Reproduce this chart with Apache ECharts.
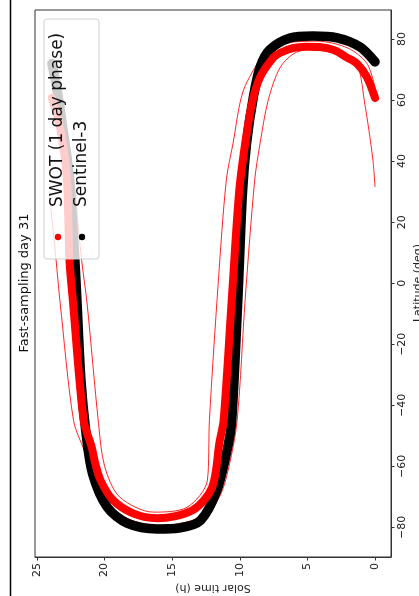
<!DOCTYPE html>
<html>
<head>
<meta charset="utf-8">
<script src="https://cdn.jsdelivr.net/npm/echarts@6/dist/echarts.min.js"></script>
<style>
  html, body { margin: 0; padding: 0; background: #fff; }
  #chart { width: 419px; height: 596px; }
</style>
</head>
<body>
<div id="chart"></div>
<script>
// solar time (h) / latitude (deg) pairs
var s3Time = [0, 1.1, 2.8, 4.6, 6.3, 7.8, 8.5, 9.0, 9.5, 9.8, 10.15, 10.6, 10.9, 11.7, 12.9, 14.5, 16.1, 18.3, 19.8, 20.9, 21.4, 21.75, 22.05, 22.2, 22.6, 23.1, 23.5, 23.9];
var s3Lat = [72.5, 77.4, 80.4, 81, 80.3, 76.4, 70.8, 61, 45.9, 30, -5.6, -45, -53.8, -67.9, -77.7, -80.2, -80.5, -78.7, -73.4, -62.3, -48.2, -31.8, -5.6, 7.5, 34.8, 51, 63, 72];

var swotTime = [0, 0.6, 1.3, 2.1, 3.0, 4.1, 5.1, 6.1, 7.0, 7.5, 8.5, 9.1, 9.6, 10.05, 10.6, 11.2, 11.5, 12.05, 13.5, 16.1, 17.9, 19.4, 20.3, 20.7, 20.95, 21.55, 22.35, 22.6, 22.8, 23.3, 23.9];
var swotLat = [60.7, 67.5, 71.8, 74, 76.3, 77.4, 77.5, 77, 75.5, 74, 67.5, 59, 45.9, 30, -5.6, -45, -52, -66.9, -74.4, -77, -75.4, -71, -64.6, -59, -53.8, -45, -5.6, 7.5, 34.8, 51, 60.7];

var edgeATime = [0, 0.6, 2.0, 4.3, 6.5, 8.0, 8.7, 9.8, 10.5, 11.0, 11.6, 12.25, 12.4, 13.9, 16.4, 18.9, 20.0, 20.45, 21.3, 21.7, 22.3, 22.9, 23.9];
var edgeALat = [64, 72, 77, 79.3, 78.7, 75.4, 72, 62.3, 45.9, 33.8, 0, -45, -64.6, -73.4, -75, -70, -60, -46, -6.5, 7.5, 34, 52, 63.5];

var edgeBTime = [0, 0.15, 0.45, 0.75, 1.3, 2.3, 3.8, 5.8, 7.0, 7.9, 8.5, 8.9, 9.6, 10.2, 10.8, 11.5, 12.8, 16.0, 19.0, 20.7, 21.5, 22.3, 23.3, 23.6, 24.1];
var edgeBLat = [31.5, 40, 50, 58.5, 71.5, 75.5, 77, 75.7, 70.8, 60, 45.9, 33.8, -5, -45, -60, -70, -76.5, -79.5, -75.5, -66, -55, -45, -6, 8, 30];

var timeTicks = [0, 5, 10, 15, 20, 25];
var latTicks = [-80, -60, -40, -20, 0, 20, 40, 60, 80];

function pairs(xs, ys) {
    var out = [];
    for (var i = 0; i < xs.length; i++) {
        out.push([xs[i], ys[i]]);
    }
    return out;
}

var chart = echarts.init(document.getElementById('chart'));
var font = 'DejaVu Sans';

var option = {
    animation: false,
    backgroundColor: '#fff',
    grid: {
        left: 35, top: 10, width: 356, height: 547,
        show: true, borderColor: '#333', borderWidth: 1
    },
    xAxis: {
        type: 'value',
        min: -1.18,
        max: 25.15,
        inverse: true,
        position: 'bottom',
        splitLine: { show: false },
        axisLine: { onZero: false, lineStyle: { color: '#333', width: 1 } },
        axisTick: { customValues: timeTicks, length: 3.5, lineStyle: { color: '#333' } },
        axisLabel: {
            customValues: timeTicks, rotate: 90, margin: 6,
            fontFamily: font, fontSize: 11, color: '#222'
        }
    },
    yAxis: {
        type: 'value',
        min: -89.7,
        max: 89.5,
        position: 'right',
        splitLine: { show: false },
        axisLine: { show: true, onZero: false, lineStyle: { color: '#333', width: 1 } },
        axisTick: { show: true, customValues: latTicks, length: 3.5, lineStyle: { color: '#333' } },
        axisLabel: {
            customValues: latTicks, rotate: 90, margin: 6,
            fontFamily: font, fontSize: 11, color: '#222',
            formatter: function (v) { return v < 0 ? '\u2212' + Math.abs(v) : '' + v; }
        }
    },
    series: [
        {
            name: 'edgeA', type: 'line', data: pairs(edgeATime, edgeALat),
            showSymbol: false, smooth: 0.3, z: 1,
            lineStyle: { color: 'rgba(255,0,0,0.85)', width: 1 }
        },
        {
            name: 'edgeB', type: 'line', data: pairs(edgeBTime, edgeBLat),
            showSymbol: false, smooth: 0.3, z: 1,
            lineStyle: { color: 'rgba(255,0,0,0.85)', width: 1 }
        },
        {
            name: 'Sentinel-3', type: 'line', data: pairs(s3Time, s3Lat),
            showSymbol: false, smooth: 0.3, z: 2,
            lineStyle: { color: '#000', width: 9.5, cap: 'round', join: 'round' }
        },
        {
            name: 'SWOT (1 day phase)', type: 'line', data: pairs(swotTime, swotLat),
            showSymbol: false, smooth: 0.3, z: 3,
            lineStyle: { color: '#ff0000', width: 8, cap: 'round', join: 'round' }
        }
    ],
    graphic: [
        // left border of the picture
        { type: 'line', z: 100, shape: { x1: 10.5, y1: 0, x2: 10.5, y2: 596 }, style: { stroke: '#000', lineWidth: 1.5 } },
        // title
        { type: 'text', z: 100, x: 25, y: 283, rotation: Math.PI / 2,
          style: { text: 'Fast-sampling day 31', font: '13px DejaVu Sans', fill: '#111', textAlign: 'center', textVerticalAlign: 'middle' } },
        // axis names
        { type: 'text', z: 100, x: 213, y: 588, rotation: Math.PI,
          style: { text: 'Solar time (h)', font: '11px DejaVu Sans', fill: '#222', textAlign: 'center', textVerticalAlign: 'middle' } },
        { type: 'text', z: 100, x: 418, y: 283, rotation: Math.PI / 2,
          style: { text: 'Latitude (deg)', font: '11px DejaVu Sans', fill: '#222', textAlign: 'center', textVerticalAlign: 'middle' } },
        // legend
        { type: 'rect', z: 100, shape: { x: 44, y: 19, width: 55, height: 240, r: 3 },
          style: { fill: 'rgba(255,255,255,0.8)', stroke: '#d0d0d0', lineWidth: 1 } },
        { type: 'circle', z: 101, shape: { cx: 58, cy: 237, r: 3.2 }, style: { fill: '#ff0000' } },
        { type: 'circle', z: 101, shape: { cx: 82, cy: 237, r: 3.2 }, style: { fill: '#000' } },
        { type: 'text', z: 101, x: 58, y: 207, rotation: Math.PI / 2,
          style: { text: 'SWOT (1 day phase)', font: '17px DejaVu Sans', fill: '#111', textAlign: 'left', textVerticalAlign: 'middle' } },
        { type: 'text', z: 101, x: 82, y: 207, rotation: Math.PI / 2,
          style: { text: 'Sentinel-3', font: '17px DejaVu Sans', fill: '#111', textAlign: 'left', textVerticalAlign: 'middle' } }
    ]
};

chart.setOption(option);
</script>
</body>
</html>
